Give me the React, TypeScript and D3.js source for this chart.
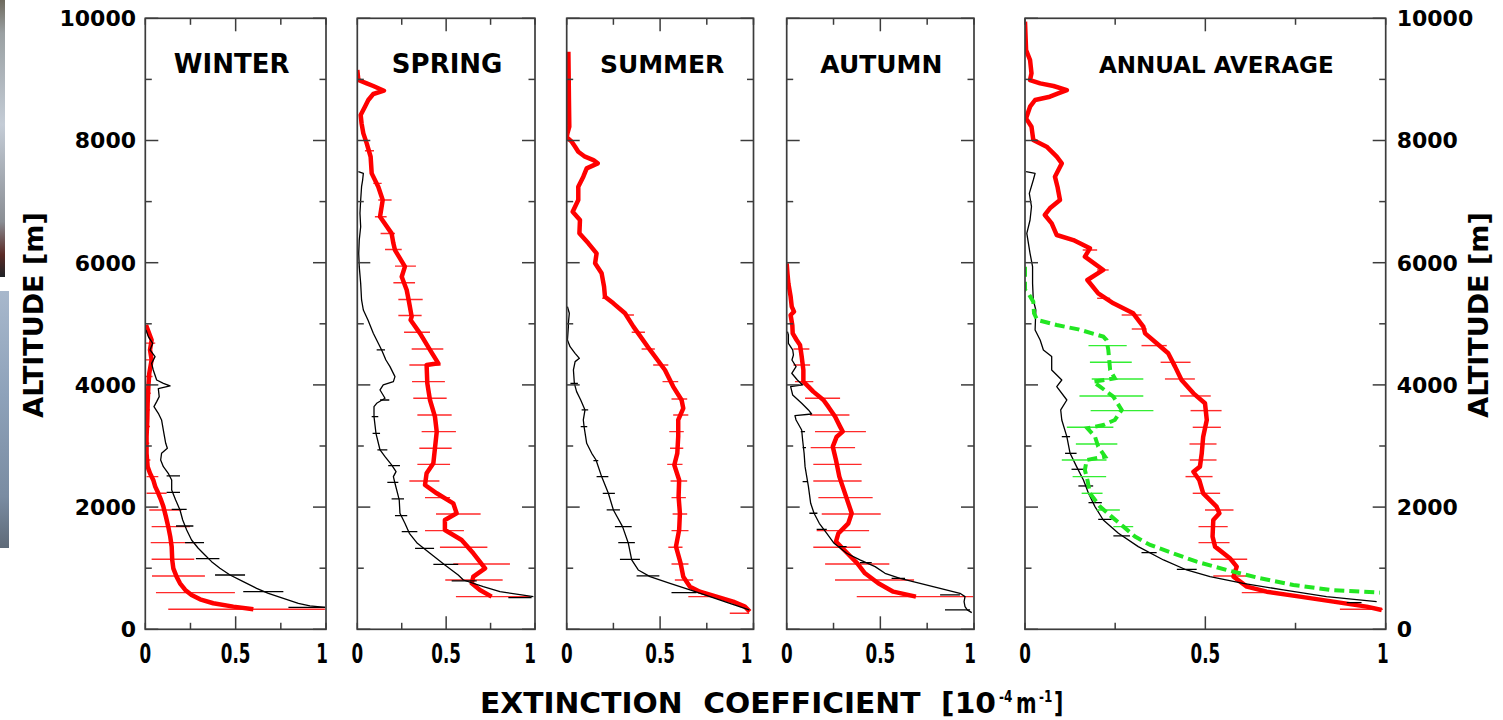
import React from 'react';
import * as d3 from 'd3';

type P = [number, number];
type B = [number, number, number];

// ---------- axis definitions ----------
const ALT_TICKS = [0, 1000, 2000, 3000, 4000, 5000, 6000, 7000, 8000, 9000, 10000];
const ALT_LABELS = [0, 2000, 4000, 6000, 8000, 10000];
const EXT_TICKS = [0, 0.25, 0.5, 0.75, 1];
const EXT_LABELS = [0, 0.5, 1];
const SEASONS = ['WINTER', 'SPRING', 'SUMMER', 'AUTUMN', 'ANNUAL AVERAGE'];

// ---------- WINTER ----------
const winterRed: P[] = [
  [4981, 0.004], [4735, 0.035], [4572, 0.026], [4408, 0.035], [4190, 0.022], [3972, 0.017], [3699, 0.013],
  [3426, 0.011], [3153, 0.007], [2880, 0.007], [2662, 0.013], [2553, 0.026], [2444, 0.044], [2335, 0.055],
  [2226, 0.072], [2117, 0.087], [2008, 0.1], [1844, 0.114], [1680, 0.127], [1517, 0.138], [1353, 0.146],
  [1135, 0.149], [998, 0.155], [862, 0.173], [753, 0.192], [644, 0.221], [562, 0.256], [491, 0.303],
  [426, 0.376], [371, 0.487], [327, 0.598],
];
const winterRedErr: B[] = [
  [4683, 0.0, 0.055], [4410, 0.0, 0.048], [4137, 0.0, 0.04], [3864, 0.0, 0.03], [3591, 0.0, 0.026],
  [3318, 0.0, 0.026], [3045, 0.0, 0.022], [2772, 0.0, 0.028],
  [2499, 0.007, 0.072], [2226, 0.007, 0.118], [1953, 0.022, 0.201], [1680, 0.035, 0.247], [1418, 0.03, 0.284],
  [1146, 0.035, 0.271], [873, 0.037, 0.33], [600, 0.059, 0.496], [327, 0.127, 0.994],
];
const winterBlack: P[] = [
  [4899, 0.004], [4790, 0.017], [4681, 0.041], [4572, 0.026], [4463, 0.054], [4353, 0.035], [4244, 0.044],
  [4080, 0.063], [4026, 0.1], [3983, 0.137], [3939, 0.072], [3808, 0.077], [3726, 0.063], [3644, 0.048],
  [3535, 0.072], [3426, 0.09], [3208, 0.103], [3044, 0.113], [2962, 0.122], [2880, 0.09], [2771, 0.085],
  [2662, 0.1], [2553, 0.127], [2444, 0.146], [2280, 0.146], [2117, 0.168], [1953, 0.192], [1789, 0.207],
  [1626, 0.229], [1462, 0.256], [1326, 0.293], [1217, 0.33], [1107, 0.367], [998, 0.413], [889, 0.469],
  [780, 0.542], [671, 0.616], [589, 0.681], [507, 0.764], [426, 0.847], [382, 0.911], [360, 0.995],
];
const winterBlackErr: B[] = [
  [2510, 0.118, 0.192], [2242, 0.118, 0.192], [1964, 0.146, 0.229], [1691, 0.17, 0.266], [1418, 0.22, 0.325],
  [1157, 0.28, 0.41], [889, 0.386, 0.552], [616, 0.542, 0.764], [360, 0.792, 0.995],
];

// ---------- SPRING ----------
const springRed: P[] = [
  [9154, 0.0], [8990, 0.006], [8935, 0.053], [8892, 0.09], [8815, 0.15], [8761, 0.09], [8663, 0.062],
  [8553, 0.043], [8417, 0.019], [8281, 0.024], [8117, 0.034], [7953, 0.053], [7734, 0.075], [7462, 0.081],
  [7244, 0.118], [7026, 0.143], [6753, 0.128], [6480, 0.193], [6317, 0.203], [6207, 0.212], [5935, 0.268],
  [5771, 0.25], [5553, 0.278], [5390, 0.289], [5117, 0.306], [5063, 0.3], [4844, 0.353], [4572, 0.409],
  [4353, 0.456], [4326, 0.39], [4026, 0.394], [3753, 0.409], [3481, 0.437], [3235, 0.447], [2962, 0.437],
  [2717, 0.428], [2553, 0.39], [2362, 0.381], [2226, 0.447], [2062, 0.54], [1899, 0.559], [1789, 0.493],
  [1626, 0.493], [1462, 0.587], [1244, 0.653], [998, 0.719], [862, 0.653], [753, 0.644], [644, 0.69],
  [535, 0.756],
];
const springRedErr: B[] = [
  [7833, 0.043, 0.094], [7298, 0.09, 0.137], [7026, 0.118, 0.193], [6751, 0.099, 0.165], [6478, 0.131, 0.212],
  [6216, 0.156, 0.25], [5944, 0.212, 0.33], [5671, 0.203, 0.325], [5398, 0.231, 0.368], [5136, 0.231, 0.362],
  [4861, 0.263, 0.409], [4588, 0.306, 0.484], [4326, 0.293, 0.469], [4053, 0.308, 0.493], [3781, 0.315, 0.503],
  [3508, 0.338, 0.531], [3235, 0.362, 0.555], [2962, 0.349, 0.531], [2700, 0.338, 0.522], [2428, 0.293, 0.462],
  [2155, 0.381, 0.522], [1888, 0.443, 0.694], [1615, 0.381, 0.6], [1342, 0.465, 0.732], [1069, 0.54, 0.859],
  [807, 0.495, 0.818], [535, 0.555, 0.972],
];
const springBlack: P[] = [
  [7489, 0.006], [7462, 0.034], [7353, 0.03], [7244, 0.024], [7026, 0.019], [6808, 0.015], [6589, 0.019],
  [6371, 0.011], [6153, 0.008], [5935, 0.011], [5662, 0.019], [5390, 0.024], [5226, 0.034], [5062, 0.06],
  [4844, 0.09], [4572, 0.137], [4408, 0.161], [4299, 0.184], [4135, 0.212], [4053, 0.203], [3999, 0.146],
  [3917, 0.128], [3781, 0.156], [3699, 0.109], [3644, 0.094], [3481, 0.094], [3208, 0.105], [2935, 0.128],
  [2826, 0.156], [2690, 0.193], [2580, 0.218], [2499, 0.203], [2390, 0.212], [2117, 0.236], [1899, 0.24],
  [1735, 0.268], [1571, 0.293], [1407, 0.338], [1244, 0.409], [1053, 0.493], [889, 0.568], [807, 0.597],
  [698, 0.709], [616, 0.803], [535, 0.991],
];
const springBlackErr: B[] = [
  [4572, 0.109, 0.156], [3753, 0.128, 0.18], [3481, 0.081, 0.118], [3208, 0.086, 0.128], [2935, 0.113, 0.169],
  [2679, 0.174, 0.24], [2406, 0.169, 0.231], [2133, 0.193, 0.263], [1860, 0.212, 0.281], [1598, 0.25, 0.338],
  [1326, 0.325, 0.432], [1064, 0.428, 0.568], [791, 0.531, 0.672], [518, 0.85, 0.981],
];

// ---------- SUMMER ----------
const summerRed: P[] = [
  [9452, 0.009], [8934, 0.011], [8662, 0.012], [8226, 0.014], [8117, 0.004], [8052, 0.0], [7981, 0.027],
  [7899, 0.045], [7817, 0.062], [7735, 0.098], [7680, 0.143], [7626, 0.166], [7544, 0.107], [7408, 0.089],
  [7244, 0.062], [7026, 0.062], [6835, 0.032], [6699, 0.071], [6481, 0.068], [6317, 0.116], [6153, 0.16],
  [5990, 0.152], [5826, 0.187], [5608, 0.2], [5444, 0.205], [5335, 0.25], [5172, 0.312], [4954, 0.357],
  [4844, 0.383], [4572, 0.446], [4244, 0.526], [3972, 0.57], [3753, 0.615], [3617, 0.624], [3426, 0.597],
  [3153, 0.597], [2880, 0.592], [2690, 0.576], [2444, 0.602], [2171, 0.599], [1899, 0.606], [1626, 0.602],
  [1353, 0.585], [1080, 0.61], [862, 0.624], [698, 0.66], [616, 0.713], [535, 0.802], [453, 0.891],
  [371, 0.954], [289, 0.98],
];
const summerRedErr: B[] = [
  [5417, 0.19, 0.225], [5144, 0.321, 0.36],
  [4861, 0.348, 0.419], [4588, 0.401, 0.472], [4326, 0.463, 0.544], [4053, 0.513, 0.597], [3770, 0.561, 0.645],
  [3508, 0.57, 0.651], [3235, 0.549, 0.627], [2962, 0.553, 0.624], [2700, 0.538, 0.62], [2428, 0.556, 0.645],
  [2155, 0.561, 0.638], [1888, 0.567, 0.645], [1615, 0.561, 0.652], [1342, 0.544, 0.62], [1069, 0.561, 0.652],
  [807, 0.579, 0.677], [535, 0.651, 0.775], [262, 0.873, 0.977],
];
const summerBlack: P[] = [
  [5280, 0.004], [5172, 0.014], [5008, 0.009], [4954, 0.009], [4735, 0.004], [4626, 0.018], [4517, 0.045],
  [4435, 0.068], [4381, 0.045], [4244, 0.036], [4026, 0.041], [3890, 0.053], [3753, 0.075], [3590, 0.098],
  [3426, 0.089], [3317, 0.093], [3044, 0.107], [2880, 0.134], [2771, 0.157], [2499, 0.187], [2226, 0.223],
  [1953, 0.25], [1680, 0.299], [1407, 0.33], [1135, 0.348], [971, 0.383], [862, 0.446], [753, 0.553],
  [644, 0.66], [535, 0.767], [426, 0.873], [317, 0.977],
];
const summerBlackErr: B[] = [
  [4026, 0.02, 0.06], [3590, 0.08, 0.115], [3317, 0.075, 0.11],
  [2760, 0.143, 0.169], [2499, 0.16, 0.223], [2226, 0.193, 0.258], [1953, 0.214, 0.285], [1680, 0.258, 0.348],
  [1418, 0.276, 0.365], [1146, 0.285, 0.392], [873, 0.374, 0.496], [600, 0.561, 0.695],
];

// ---------- AUTUMN ----------
const autumnRed: P[] = [
  [5989, 0.0], [5825, 0.004], [5662, 0.009], [5444, 0.021], [5280, 0.027], [5198, 0.039], [5144, 0.021],
  [4980, 0.03], [4844, 0.032], [4735, 0.053], [4654, 0.071], [4463, 0.08], [4244, 0.089], [4053, 0.089],
  [3972, 0.116], [3890, 0.142], [3753, 0.196], [3644, 0.222], [3481, 0.258], [3317, 0.285], [3235, 0.299],
  [3153, 0.267], [2990, 0.246], [2771, 0.263], [2499, 0.281], [2171, 0.317], [1899, 0.347], [1735, 0.329],
  [1571, 0.276], [1435, 0.263], [1244, 0.324], [1080, 0.377], [917, 0.418], [753, 0.489], [616, 0.569],
  [535, 0.69],
];
const autumnRedErr: B[] = [
  [4588, 0.036, 0.121], [4326, 0.036, 0.125], [4053, 0.044, 0.142], [3781, 0.098, 0.285], [3508, 0.125, 0.335],
  [3235, 0.151, 0.423], [2973, 0.128, 0.365], [2700, 0.142, 0.4], [2428, 0.142, 0.4], [2155, 0.169, 0.459],
  [1888, 0.187, 0.502], [1615, 0.16, 0.44], [1342, 0.142, 0.395], [1069, 0.205, 0.548], [807, 0.258, 0.68],
  [535, 0.374, 0.996],
];
const autumnBlack: P[] = [
  [4872, 0.004], [4817, 0.009], [4681, 0.009], [4572, 0.032], [4490, 0.036], [4408, 0.028], [4299, 0.05],
  [4190, 0.027], [4080, 0.057], [3999, 0.085], [3972, 0.021], [3835, 0.032], [3699, 0.08], [3590, 0.116],
  [3524, 0.133], [3497, 0.044], [3426, 0.05], [3262, 0.08], [3099, 0.085], [2880, 0.093], [2662, 0.098],
  [2499, 0.107], [2335, 0.116], [2062, 0.128], [1899, 0.146], [1735, 0.174], [1571, 0.214], [1407, 0.253],
  [1244, 0.32], [1135, 0.391], [1026, 0.472], [917, 0.525], [835, 0.605], [753, 0.712], [671, 0.819],
  [589, 0.925], [535, 0.952], [453, 0.947], [371, 0.952], [317, 0.964], [273, 0.988],
];
const autumnBlackErr: B[] = [
  [3235, 0.075, 0.098], [2973, 0.085, 0.103],
  [2417, 0.085, 0.11], [1899, 0.121, 0.164], [1637, 0.16, 0.214], [1353, 0.276, 0.32], [1091, 0.391, 0.454],
  [835, 0.56, 0.632], [562, 0.819, 0.925], [317, 0.845, 0.979],
];

// ---------- ANNUAL AVERAGE ----------
const annualRed: P[] = [
  [9945, 0.0], [9481, 0.003], [9317, 0.014], [9099, 0.018], [8990, 0.014], [8935, 0.042], [8892, 0.079],
  [8826, 0.116], [8771, 0.092], [8717, 0.069], [8663, 0.028], [8553, 0.014], [8362, 0.003], [8226, 0.018],
  [8008, 0.023], [7899, 0.06], [7735, 0.088], [7626, 0.102], [7408, 0.083], [7244, 0.09], [7026, 0.097],
  [6890, 0.069], [6781, 0.055], [6644, 0.074], [6453, 0.088], [6371, 0.134], [6235, 0.18], [6099, 0.166],
  [5881, 0.217], [5717, 0.173], [5499, 0.203], [5335, 0.245], [5172, 0.3], [4954, 0.328], [4844, 0.333],
  [4681, 0.365], [4517, 0.397], [4299, 0.416], [4080, 0.434], [3862, 0.467], [3699, 0.499], [3426, 0.504],
  [3153, 0.494], [2880, 0.49], [2662, 0.485], [2580, 0.467], [2444, 0.483], [2226, 0.494], [2008, 0.531],
  [1899, 0.539], [1789, 0.522], [1517, 0.52], [1353, 0.527], [1162, 0.568], [1026, 0.587], [862, 0.578],
  [698, 0.615], [616, 0.67], [535, 0.762], [453, 0.855], [371, 0.947], [316, 0.989],
];
const annualRedErr: B[] = [
  [6207, 0.16, 0.2], [5881, 0.2, 0.232], [5417, 0.2, 0.236], [5144, 0.268, 0.323],
  [4915, 0.296, 0.337], [4643, 0.323, 0.393], [4370, 0.376, 0.459], [4097, 0.388, 0.471], [3819, 0.43, 0.515],
  [3579, 0.459, 0.545], [3306, 0.465, 0.543], [3033, 0.456, 0.531], [2771, 0.457, 0.531], [2499, 0.445, 0.52],
  [2226, 0.465, 0.541], [1953, 0.499, 0.578], [1680, 0.481, 0.562], [1418, 0.481, 0.567], [1146, 0.515, 0.616],
  [873, 0.522, 0.633], [600, 0.601, 0.67], [327, 0.873, 0.992],
];
const annualBlack: P[] = [
  [7489, 0.003], [7462, 0.028], [7353, 0.023], [7135, 0.012], [6917, 0.018], [6699, 0.014], [6481, 0.005],
  [6153, 0.014], [5935, 0.021], [5662, 0.021], [5390, 0.023], [5226, 0.03], [4898, 0.028], [4735, 0.042],
  [4572, 0.051], [4463, 0.074], [4244, 0.074], [4080, 0.102], [3972, 0.088], [3753, 0.116], [3590, 0.099],
  [3426, 0.102], [3153, 0.116], [2880, 0.125], [2662, 0.143], [2444, 0.162], [2226, 0.176], [2008, 0.194],
  [1789, 0.217], [1571, 0.259], [1353, 0.314], [1135, 0.384], [971, 0.448], [862, 0.513], [753, 0.605],
  [644, 0.716], [535, 0.836], [453, 0.975],
];
const annualBlackErr: B[] = [
  [3153, 0.102, 0.125], [2880, 0.111, 0.143], [2619, 0.129, 0.162], [2346, 0.148, 0.189], [2073, 0.176, 0.213],
  [1800, 0.203, 0.24], [1528, 0.245, 0.291], [1255, 0.323, 0.365], [982, 0.421, 0.476], [436, 0.892, 0.933],
];
const annualGreen: P[] = [
  [5935, 0.0], [5771, 0.0], [5553, 0.0], [5499, 0.009], [5362, 0.023], [5172, 0.025], [5062, 0.034],
  [4980, 0.088], [4909, 0.148], [4790, 0.217], [4735, 0.226], [4572, 0.231], [4244, 0.236], [4108, 0.249],
  [4053, 0.189], [3972, 0.208], [3808, 0.245], [3590, 0.268], [3426, 0.249], [3344, 0.217], [3290, 0.173],
  [3153, 0.194], [2990, 0.203], [2826, 0.222], [2771, 0.171], [2608, 0.166], [2444, 0.173], [2226, 0.18],
  [2008, 0.208], [1844, 0.24], [1680, 0.273], [1517, 0.305], [1380, 0.347], [1244, 0.411], [1107, 0.476],
  [971, 0.559], [835, 0.652], [726, 0.744], [644, 0.846], [600, 0.984],
];
const annualGreenErr: B[] = [
  [4643, 0.176, 0.282], [4370, 0.18, 0.296], [4097, 0.185, 0.328], [3819, 0.151, 0.328], [3579, 0.182, 0.356],
  [3306, 0.116, 0.245], [3033, 0.141, 0.256], [2771, 0.102, 0.226], [2499, 0.132, 0.225], [2226, 0.157, 0.215],
  [1953, 0.199, 0.263], [1680, 0.245, 0.3],
];

const RED_LINES = [winterRed, springRed, summerRed, autumnRed, annualRed];
const RED_ERRS = [winterRedErr, springRedErr, summerRedErr, autumnRedErr, annualRedErr];
const BLACK_LINES = [winterBlack, springBlack, summerBlack, autumnBlack, annualBlack];
const BLACK_ERRS = [winterBlackErr, springBlackErr, summerBlackErr, autumnBlackErr, annualBlackErr];
const GREEN_LINES: (P[] | null)[] = [null, null, null, null, annualGreen];
const GREEN_ERRS: (B[] | null)[] = [null, null, null, null, annualGreenErr];

// ---------- layout ----------
const TOP = 18.3;
const BOTTOM = 629.3;
const PANELS = [
  { x0: 145.3, x1: 326, titleDx: -4, titleSize: 26, oneDx: -4 },
  { x0: 357.3, x1: 535, titleDx: 1, titleSize: 26, oneDx: -5 },
  { x0: 566.7, x1: 753.5, titleDx: 2, titleSize: 25, oneDx: -7 },
  { x0: 786.7, x1: 974, titleDx: 1, titleSize: 25, oneDx: -4 },
  { x0: 1025, x1: 1385.7, titleDx: 11, titleSize: 23, oneDx: -3 },
];

const FONT = "'DejaVu Sans', Verdana, sans-serif";
const RED = '#ff0000';
const GREEN = '#22e622';
const FRAME = '#3c3c3c';

const y = d3.scaleLinear().domain([0, 10000]).range([BOTTOM, TOP]);

function Panel({ i }: { i: number }) {
  const p = PANELS[i];
  const x = d3.scaleLinear().domain([0, 1]).range([p.x0, p.x1]);
  const line = d3
    .line<P>()
    .x((d) => x(d[1]))
    .y((d) => y(d[0]));
  const clipId = `clip${i}`;
  const bars = (errs: B[] | null, color: string, w: number) =>
    (errs || []).map((b, k) => (
      <line key={k} x1={x(b[1])} x2={x(b[2])} y1={y(b[0])} y2={y(b[0])} stroke={color} strokeWidth={w} />
    ));
  const green = GREEN_LINES[i];
  return (
    <g>
      <defs>
        <clipPath id={clipId}>
          <rect x={p.x0} y={TOP} width={p.x1 - p.x0} height={BOTTOM - TOP} />
        </clipPath>
      </defs>
      <g clipPath={`url(#${clipId})`}>
        {bars(RED_ERRS[i], '#ff2a2a', 1.4)}
        <path d={line(RED_LINES[i]) || ''} fill="none" stroke={RED} strokeWidth={4.5} strokeLinejoin="round" />
        <path d={line(BLACK_LINES[i]) || ''} fill="none" stroke="#000" strokeWidth={1.3} strokeLinejoin="round" />
        {bars(BLACK_ERRS[i], '#000', 1.3)}
        {green && (
          <>
            {bars(GREEN_ERRS[i], '#33ee33', 1.4)}
            <path
              d={line(green) || ''}
              fill="none"
              stroke={GREEN}
              strokeWidth={4}
              strokeDasharray="10 5"
            />
          </>
        )}
      </g>
      {ALT_TICKS.map((t) => {
        const len = t % 2000 === 0 ? 13 : 6.5;
        return (
          <g key={'a' + t}>
            <line x1={p.x0} x2={p.x0 + len} y1={y(t)} y2={y(t)} stroke={FRAME} strokeWidth={1.5} />
            <line x1={p.x1} x2={p.x1 - len} y1={y(t)} y2={y(t)} stroke={FRAME} strokeWidth={1.5} />
          </g>
        );
      })}
      {EXT_TICKS.map((t) => {
        const len = t === 0.5 ? 13 : 6.5;
        return (
          <g key={'e' + t}>
            <line x1={x(t)} x2={x(t)} y1={BOTTOM} y2={BOTTOM - len} stroke={FRAME} strokeWidth={1.5} />
            <line x1={x(t)} x2={x(t)} y1={TOP} y2={TOP + len} stroke={FRAME} strokeWidth={1.5} />
          </g>
        );
      })}
      <rect x={p.x0} y={TOP} width={p.x1 - p.x0} height={BOTTOM - TOP} fill="none" stroke={FRAME} strokeWidth={1.7} />
      {EXT_LABELS.map((t) => (
        <text
          key={'l' + t}
          transform={`translate(${x(t) + (t === 1 ? p.oneDx : 0)},${663}) scale(0.62,1)`}
          textAnchor="middle"
          fontFamily={FONT}
          fontWeight="bold"
          fontSize={27}
          fill="#000"
        >
          {String(t)}
        </text>
      ))}
      <text
        x={(p.x0 + p.x1) / 2 + p.titleDx}
        y={72.5}
        textAnchor="middle"
        fontFamily={FONT}
        fontWeight="bold"
        fontSize={p.titleSize}
        fill="#000"
      >
        {SEASONS[i]}
      </text>
    </g>
  );
}

function Condensed({ x, y: yy, size, text, sx = 0.7 }: { x: number; y: number; size: number; text: string; sx?: number }) {
  return (
    <text
      transform={`translate(${x},${yy}) scale(${sx},1)`}
      fontFamily={FONT}
      fontWeight="bold"
      fontSize={size}
      fill="#000"
    >
      {text}
    </text>
  );
}

export default function App() {
  const last = PANELS[PANELS.length - 1];
  return (
    <svg
      width={1503}
      height={720}
      viewBox="0 0 1503 720"
      style={{ position: 'absolute', left: 0, top: 0, background: '#fff' }}
    >
      <defs>
        <linearGradient id="stripTop" x1="0" y1="0" x2="0" y2="1">
          <stop offset="0" stopColor="#6e6a5e" />
          <stop offset="0.12" stopColor="#9aa0a2" />
          <stop offset="0.45" stopColor="#c4ccd6" />
          <stop offset="0.8" stopColor="#8a8e94" />
          <stop offset="0.92" stopColor="#5a2a26" />
          <stop offset="1" stopColor="#1e2226" />
        </linearGradient>
        <linearGradient id="stripBot" x1="0" y1="0" x2="0" y2="1">
          <stop offset="0" stopColor="#a8b8cc" />
          <stop offset="0.4" stopColor="#8ea2ba" />
          <stop offset="0.8" stopColor="#7a8ca2" />
          <stop offset="1" stopColor="#5e6a78" />
        </linearGradient>
      </defs>
      <rect x={0} y={0} width={1503} height={720} fill="#fff" />
      <rect x={0} y={0} width={5} height={277} fill="url(#stripTop)" />
      <rect x={0} y={291} width={9} height={257} fill="url(#stripBot)" />

      {PANELS.map((_, i) => (
        <Panel key={i} i={i} />
      ))}

      {ALT_LABELS.map((t) => (
        <text
          key={'L' + t}
          x={136}
          y={y(t)}
          dy="0.36em"
          textAnchor="end"
          fontFamily={FONT}
          fontWeight="bold"
          fontSize={22}
          fill="#000"
        >
          {t}
        </text>
      ))}
      {ALT_LABELS.map((t) => (
        <text
          key={'R' + t}
          x={last.x1 + 11}
          y={y(t)}
          dy="0.36em"
          textAnchor="start"
          fontFamily={FONT}
          fontWeight="bold"
          fontSize={22}
          fill="#000"
        >
          {t}
        </text>
      ))}
      <text
        transform={`translate(43,315) rotate(-90)`}
        textAnchor="middle"
        fontFamily={FONT}
        fontWeight="bold"
        fontSize={27}
        fill="#000"
      >
        ALTITUDE [m]
      </text>
      <text
        transform={`translate(1488,315) rotate(-90)`}
        textAnchor="middle"
        fontFamily={FONT}
        fontWeight="bold"
        fontSize={27}
        fill="#000"
      >
        ALTITUDE [m]
      </text>

      {/* x-axis title, split into pieces so the superscripts sit cleanly */}
      <text
        x={480}
        y={713}
        textLength={516}
        lengthAdjust="spacingAndGlyphs"
        fontFamily={FONT}
        fontWeight="bold"
        fontSize={29}
        fill="#000"
        style={{ whiteSpace: 'pre' }}
      >
        {'EXTINCTION  COEFFICIENT  [10'}
      </text>
      <Condensed x={999} y={702} size={16} text="-4" sx={0.75} />
      <Condensed x={1016} y={713} size={29} text="m" sx={0.68} />
      <Condensed x={1039} y={702} size={16} text="-1" sx={0.75} />
      <Condensed x={1054} y={713} size={29} text="]" sx={0.7} />
    </svg>
  );
}
